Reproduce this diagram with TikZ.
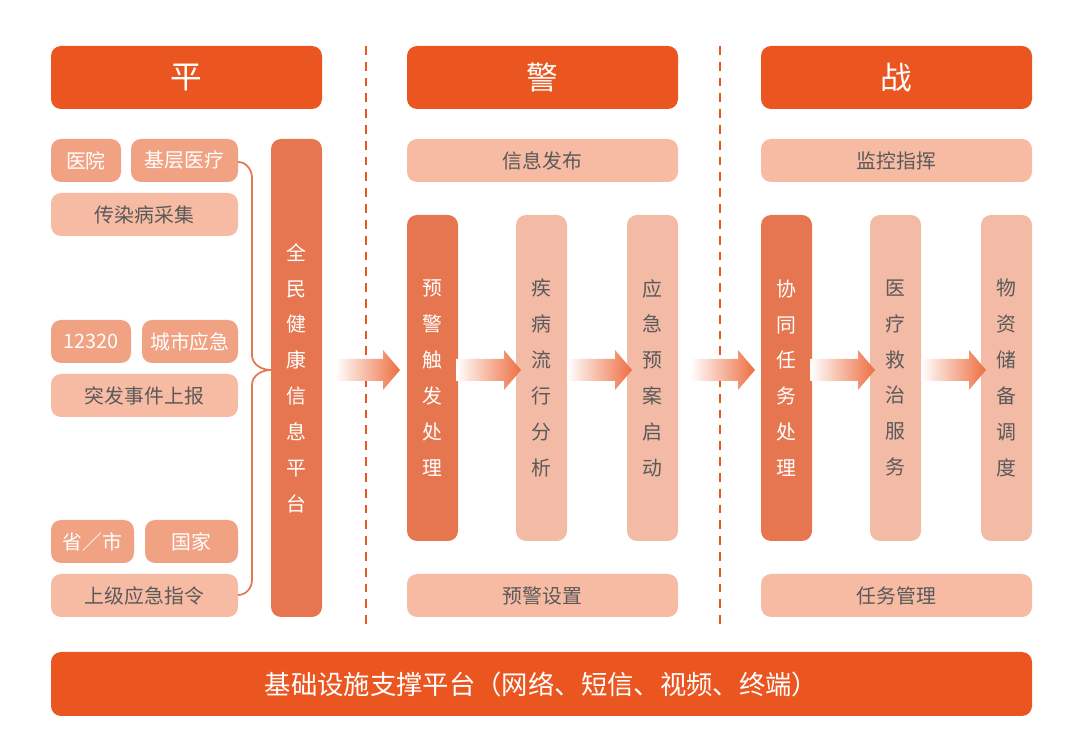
\documentclass[tikz,border=0pt]{standalone}
\usepackage{fontspec}
\setmainfont{Noto Sans CJK SC}
\definecolor{hdrc}{HTML}{EA5520}
\definecolor{darkc}{HTML}{E67650}
\definecolor{midc}{HTML}{F0A283}
\definecolor{lightc}{HTML}{F7BBA3}
\definecolor{colc}{HTML}{F3BAA5}
\definecolor{txtc}{HTML}{5A5A5A}
\tikzset{
  px/.style={x=0.02cm,y=-0.02cm},
  box/.style 2 args={rounded corners=0.2cm,inner sep=0pt,
    minimum width=#1*0.02cm,minimum height=#2*0.02cm},
  hdr/.style={fill=hdrc,text=white,font=\fontsize{18}{20}\selectfont},
  dbox/.style={fill=darkc,text=white},
  mbox/.style={fill=midc,text=white,font=\fontsize{11.3}{13}\selectfont},
  lbox/.style={fill=lightc,text=txtc,font=\fontsize{11.3}{13}\selectfont},
  cbox/.style={fill=colc},
  vtext/.style={align=center,inner sep=0pt,font=\fontsize{11.3}{20.4}\selectfont},
  flow/.style={left color=white,right color=hdrc!85,draw=none},
}
\newcommand{\flowarrow}[1]{%
  \shade[flow] (#1,359) -- ++(48,0) -- ++(0,-9) -- ++(17,20) -- ++(-17,20)
    -- ++(0,-9) -- ++(-48,0) -- cycle;}
\begin{document}
\begin{tikzpicture}[px]
\useasboundingbox (0,0) rectangle (1080,753);
% headers
\node[hdr,box={271}{63}] (ping) at (186.5,77.5) {平};
\node[hdr,box={271}{63}] (jing) at (542.5,77.5) {警};
\node[hdr,box={271}{63}] (zhan) at (896.5,77.5) {战};
\node[hdr,box={981}{64},font=\fontsize{15}{17}\selectfont] (base) at (541.5,684) {基础设施支撑平台（网络、短信、视频、终端）};
% dashed separators
\draw[hdrc,line width=1.2pt,dash pattern=on 5pt off 4pt] (366,46) -- (366,628);
\draw[hdrc,line width=1.2pt,dash pattern=on 5pt off 4pt] (720,46) -- (720,628);
% left column
\node[mbox,box={70}{43}] (yy) at (86,160.5) {医院};
\node[mbox,box={107}{43}] (jc) at (184.5,160.5) {基层医疗};
\node[lbox,box={187}{43}] (cr) at (144.5,214.5) {传染病采集};
\node[mbox,box={80}{43}] (hot) at (91,341.5) {12320};
\node[mbox,box={96}{43}] (cs) at (190,341.5) {城市应急};
\node[lbox,box={187}{43}] (tf) at (144.5,395.5) {突发事件上报};
\node[mbox,box={83}{43}] (sheng) at (92.5,541.5) {省／市};
\node[mbox,box={93}{43}] (gj) at (191.5,541.5) {国家};
\node[lbox,box={187}{43}] (sj) at (144.5,595.5) {上级应急指令};
% brace
\draw[darkc,line width=1pt] (238,162) to[out=0,in=90] (252,178) -- (252,355)
  to[out=-90,in=180] (271,370) to[out=180,in=90] (252,385) -- (252,580)
  to[out=-90,in=0] (238,595);
\node[dbox,box={51}{478}] (qm) at (296.5,378) {};
\node[vtext,text=white] at (qm) {全\\民\\健\\康\\信\\息\\平\\台};
% warning part
\node[lbox,box={271}{43}] (xx) at (542.5,160.5) {信息发布};
\node[lbox,box={271}{43}] (yjsz) at (542.5,595.5) {预警设置};
\node[dbox,box={51}{326}] (c1) at (432.5,378) {};
\node[vtext,text=white] at (c1) {预\\警\\触\\发\\处\\理};
\node[cbox,box={51}{326}] (c2) at (541.5,378) {};
\node[vtext,text=txtc] at (c2) {疾\\病\\流\\行\\分\\析};
\node[cbox,box={51}{326}] (c3) at (652.5,378) {};
\node[vtext,text=txtc] at (c3) {应\\急\\预\\案\\启\\动};
% battle part
\node[lbox,box={271}{43}] (jk) at (896.5,160.5) {监控指挥};
\node[lbox,box={271}{43}] (rw) at (896.5,595.5) {任务管理};
\node[dbox,box={51}{326}] (c4) at (786.5,378) {};
\node[vtext,text=white] at (c4) {协\\同\\任\\务\\处\\理};
\node[cbox,box={51}{326}] (c5) at (895.5,378) {};
\node[vtext,text=txtc] at (c5) {医\\疗\\救\\治\\服\\务};
\node[cbox,box={51}{326}] (c6) at (1006.5,378) {};
\node[vtext,text=txtc] at (c6) {物\\资\\储\\备\\调\\度};
% flow arrows
\flowarrow{335}
\flowarrow{456}
\flowarrow{567}
\flowarrow{690}
\flowarrow{810}
\flowarrow{921}
\end{tikzpicture}
\end{document}
